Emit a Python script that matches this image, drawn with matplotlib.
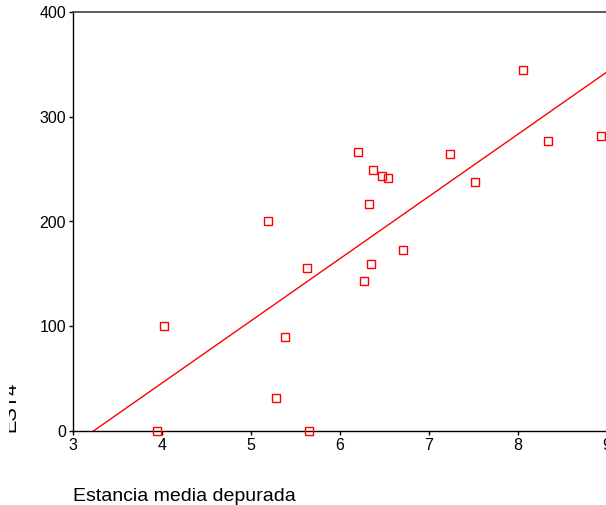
import numpy as np
import matplotlib
matplotlib.use("Agg")
import matplotlib.pyplot as plt
from matplotlib.transforms import Bbox, TransformedBbox

plt.rcParams['font.family'] = ['Liberation Sans', 'DejaVu Sans']

# Estancia media depurada vs EST4
estancia = [3.94, 4.02, 5.19, 5.28, 5.38, 5.63, 5.65, 6.20, 6.27, 6.33,
            6.35, 6.37, 6.47, 6.54, 6.71, 7.24, 7.52, 8.06, 8.34, 8.93]
est4 = [0, 100, 200, 31.5, 89.7, 155.6, 0, 266, 143, 216.7,
        159.4, 249, 243, 241.5, 172.8, 264, 237.7, 344.6, 277, 281.6]
xticks = [3, 4, 5, 6, 7, 8, 9]
yticks = [0, 100, 200, 300, 400]

W, H = 606, 505
fig = plt.figure(figsize=(W / 100, H / 100), dpi=100)
# axes run past the right edge of the picture, as in the original
ax = fig.add_axes([73 / W, 74 / H, 551.8 / W, 419 / H])
ax.set_xlim(3, 9.2)
ax.set_ylim(0, 400)

ax.plot(estancia, est4, ls='none', marker='s', ms=5.2, mfc='none',
        mec='red', mew=1.0, clip_on=False, zorder=3)

# least squares fit line
slope, icpt = np.polyfit(estancia, est4, 1)
xl = np.array([3, 9.2])
ax.plot(xl, slope * xl + icpt, color='red', lw=1.0)

ax.set_xticks(xticks)
ax.set_yticks(yticks)
ax.tick_params(direction='out', length=3, width=1, labelsize=11.5,
               colors='black', pad=2)
for s in ['left', 'bottom']:
    ax.spines[s].set_linewidth(1.0)
    ax.spines[s].set_color('black')
ax.spines['top'].set_color('#404040')
ax.spines['top'].set_linewidth(1.2)
ax.spines['right'].set_visible(False)

fig.text(73 / W, 1 - 501 / H, 'Estancia media depurada', fontsize=14,
         ha='left', va='baseline')

# y label, cut off at the left as in the source
yl = fig.text(19 / W, 1 - 432 / H, 'EST4', fontsize=14.5, rotation=90,
              ha='right', va='bottom')
yl.set_clip_box(TransformedBbox(Bbox([[9 / W, 0], [1, 1]]), fig.transFigure))
yl.set_clip_on(True)

fig.savefig('out.png', dpi=100)
